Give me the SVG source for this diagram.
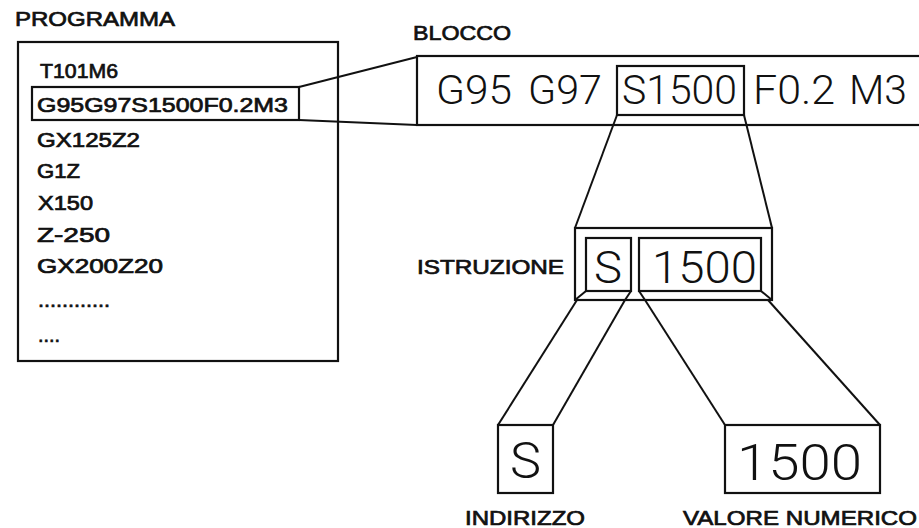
<svg xmlns="http://www.w3.org/2000/svg" width="919" height="528" viewBox="0 0 919 528">
<style>
.bx{fill:none;stroke:#111;stroke-width:2.2}
.ln{fill:none;stroke:#111;stroke-width:2}
.lb{font-family:"Liberation Sans",Arial,sans-serif;fill:#111;stroke:#111;stroke-width:0.7;font-size:20px}
.pg{font-family:"Liberation Sans",Arial,sans-serif;fill:#111;stroke:#111;stroke-width:0.7;font-size:20px}
.bg{font-family:Roboto,"Liberation Sans",Arial,sans-serif;font-weight:300;fill:#111}
</style>
<rect width="919" height="528" fill="#fff"/>
<g id="programma">
<text class="lb" x="15" y="26" font-size="19" textLength="160" lengthAdjust="spacingAndGlyphs">PROGRAMMA</text>
<rect class="bx" x="18" y="42" width="320" height="319"/>
<text class="pg" x="40" y="78" textLength="78" lengthAdjust="spacingAndGlyphs">T101M6</text>
<rect class="bx" x="32" y="87" width="267" height="33"/>
<text class="pg" x="37" y="112" textLength="251" lengthAdjust="spacingAndGlyphs">G95G97S1500F0.2M3</text>
<text class="pg" x="37" y="147" textLength="103" lengthAdjust="spacingAndGlyphs">GX125Z2</text>
<text class="pg" x="37" y="178" textLength="43" lengthAdjust="spacingAndGlyphs">G1Z</text>
<text class="pg" x="38" y="210" textLength="55" lengthAdjust="spacingAndGlyphs">X150</text>
<text class="pg" x="37" y="242" textLength="73" lengthAdjust="spacingAndGlyphs">Z-250</text>
<text class="pg" x="37" y="273" textLength="126" lengthAdjust="spacingAndGlyphs">GX200Z20</text>
<text class="pg" x="38" y="307" textLength="72" lengthAdjust="spacingAndGlyphs">............</text>
<text class="pg" x="38" y="342" textLength="22" lengthAdjust="spacingAndGlyphs">....</text>
</g>
<g id="blocco">
<text class="lb" x="413" y="40" font-size="19" textLength="98" lengthAdjust="spacingAndGlyphs">BLOCCO</text>
<rect class="bx" x="417" y="56" width="520" height="69"/>
<text class="bg" x="436" y="104" font-size="41" textLength="76" lengthAdjust="spacingAndGlyphs">G95</text>
<text class="bg" x="528" y="104" font-size="41" textLength="74" lengthAdjust="spacingAndGlyphs">G97</text>
<rect class="bx" x="617" y="66" width="127" height="49"/>
<text class="bg" x="622" y="104" font-size="41" textLength="115" lengthAdjust="spacingAndGlyphs">S1500</text>
<text class="bg" x="753" y="104" font-size="41" textLength="82" lengthAdjust="spacingAndGlyphs">F0.2</text>
<text class="bg" x="849" y="104" font-size="41" textLength="58" lengthAdjust="spacingAndGlyphs">M3</text>
</g>
<g id="istruzione">
<text class="lb" x="417" y="274" font-size="21" textLength="147" lengthAdjust="spacingAndGlyphs">ISTRUZIONE</text>
<rect class="bx" x="575" y="228" width="197" height="72" stroke-width="2.6"/>
<rect class="bx" x="586" y="238" width="45" height="53"/>
<rect class="bx" x="639" y="238" width="122" height="53"/>
<polyline class="ln" points="575,300 586,291"/>
<polyline class="ln" points="631,291 625,300"/>
<polyline class="ln" points="639,291 645,300"/>
<polyline class="ln" points="761,291 772,300"/>
<text class="bg" x="594" y="283" font-size="44" textLength="28" lengthAdjust="spacingAndGlyphs">S</text>
<text class="bg" x="652" y="283" font-size="44" textLength="105" lengthAdjust="spacingAndGlyphs">1500</text>
</g>
<g id="indirizzo">
<rect class="bx" x="498" y="425" width="55" height="68"/>
<text class="bg" x="510" y="478" font-size="50" textLength="31" lengthAdjust="spacingAndGlyphs">S</text>
<text class="lb" x="465" y="525" font-size="22" textLength="120" lengthAdjust="spacingAndGlyphs">INDIRIZZO</text>
</g>
<g id="valore">
<rect class="bx" x="725" y="425" width="155" height="68"/>
<text class="bg" x="737" y="480" font-size="50" textLength="125" lengthAdjust="spacingAndGlyphs">1500</text>
<text class="lb" x="683" y="525" font-size="22" textLength="234" lengthAdjust="spacingAndGlyphs">VALORE NUMERICO</text>
</g>
<g id="connectors">
<line class="ln" x1="299" y1="87" x2="417" y2="57"/>
<line class="ln" x1="299" y1="120" x2="417" y2="125"/>
<line class="ln" x1="617" y1="115" x2="575" y2="228"/>
<line class="ln" x1="744" y1="115" x2="772" y2="228"/>
<line class="ln" x1="577" y1="300" x2="498" y2="425"/>
<line class="ln" x1="625" y1="300" x2="553" y2="425"/>
<line class="ln" x1="645" y1="300" x2="725" y2="425"/>
<line class="ln" x1="768" y1="300" x2="880" y2="425"/>
</g>
</svg>
